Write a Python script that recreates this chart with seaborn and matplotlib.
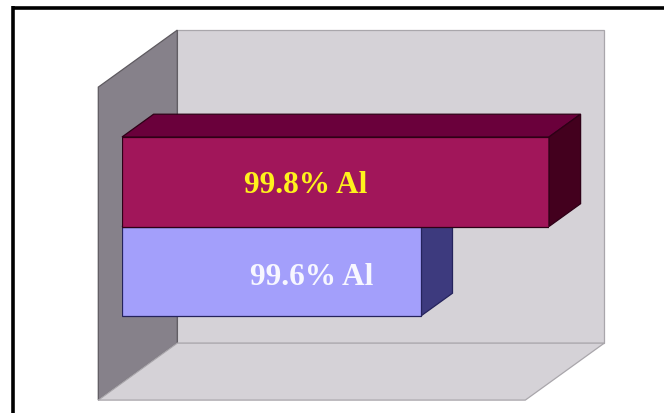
import matplotlib
matplotlib.use("Agg")
import matplotlib.pyplot as plt
from matplotlib.patches import Polygon
from matplotlib.lines import Line2D
import seaborn as sns
import pandas as pd

# Aluminium purity grades and their relative bar lengths
alloys = ["99.8% Al", "99.6% Al"]
relative = [1.0, 0.70]
value_max = 1.0

front_colors = ["#A1165A", "#A39FFB"]
top_colors = ["#6A003B", "#5A5AB0"]
side_colors = ["#43001E", "#3D3A7E"]
edge_colors = ["#2E0016", "#25235C"]
text_colors = ["#FFF21C", "#F7F7FF"]

df = pd.DataFrame({"alloy": alloys, "value": relative})

sns.set_theme(style="white")
W, H, DPI = 664, 414, 100
fig = plt.figure(figsize=(W / DPI, H / DPI), dpi=DPI, facecolor="white")

# front plane of the bars, in pixels
left_px, right_px, top_px, bot_px = 122, 549, 71, 384
ax = fig.add_axes([left_px / W, 1 - bot_px / H,
                   (right_px - left_px) / W, (bot_px - top_px) / H])

sns.barplot(data=df, x="value", y="alloy", hue="alloy", palette=front_colors,
            saturation=1.0, width=1.0, legend=False, ax=ax, linewidth=0.9,
            zorder=1.0)
for patch, ec in zip(ax.patches, edge_colors):
    patch.set_edgecolor(ec)

ax.set_xlim(0, value_max)
ax.set_ylim(2.2486, -1.2486)
ax.set_axis_off()

# depth vector of the box (pixels right / up) expressed in data units
inv = ax.transData.inverted()
x0d, y0d = ax.transData.transform((0, 0))
p0 = inv.transform((x0d, y0d))
p1 = inv.transform((x0d + 79, y0d + 57))
dvx, dvy = p1[0] - p0[0], p1[1] - p0[1]
bar_depth = 0.3  # bars sit between depth 0.3 and 0.7 of the box


def pt(x, y, d):
    return (x + (d - bar_depth) * dvx, y + (d - bar_depth) * dvy)


ytop, ybot = -1.2486, 2.2486

# back wall, side wall and floor
walls = [
    ([pt(0, ytop, 1), pt(value_max, ytop, 1), pt(value_max, ybot, 1), pt(0, ybot, 1)],
     "#D5D2D7", "#A9A6AB"),
    ([pt(0, ytop, 0), pt(0, ytop, 1), pt(0, ybot, 1), pt(0, ybot, 0)],
     "#86818A", "#5E5A60"),
    ([pt(0, ybot, 0), pt(value_max, ybot, 0), pt(value_max, ybot, 1), pt(0, ybot, 1)],
     "#D5D2D7", "#A9A6AB"),
]
for i, (verts, fc, ec) in enumerate(walls):
    ax.add_patch(Polygon(verts, closed=True, facecolor=fc, edgecolor=ec,
                         linewidth=0.9, zorder=0.1 + 0.1 * i, clip_on=False))

# top and side faces of every bar, derived from the drawn bars
d0, d1 = bar_depth, bar_depth + 0.4
for i, patch in enumerate(ax.patches[:len(alloys)]):
    bx, by = patch.get_x(), patch.get_y()
    bw, bh = patch.get_width(), patch.get_height()
    y_hi, y_lo = by, by + bh  # upper / lower edge on screen (inverted axis)
    z = 1.2 if i == 0 else 0.8
    top = [pt(bx, y_hi, d0), pt(bx, y_hi, d1), pt(bx + bw, y_hi, d1), pt(bx + bw, y_hi, d0)]
    side = [pt(bx + bw, y_hi, d0), pt(bx + bw, y_hi, d1), pt(bx + bw, y_lo, d1), pt(bx + bw, y_lo, d0)]
    ax.add_patch(Polygon(top, closed=True, facecolor=top_colors[i],
                         edgecolor=edge_colors[i], linewidth=0.9, zorder=z, clip_on=False))
    ax.add_patch(Polygon(side, closed=True, facecolor=side_colors[i],
                         edgecolor=edge_colors[i], linewidth=0.9, zorder=z, clip_on=False))
    if i == 0:
        patch.set_zorder(1.1)

# category names written inside the bars
label_x = [0.43, 0.445]
label_baseline = [0.1145, 0.142]
for i, name in enumerate(alloys):
    ax.text(label_x[i], i + label_baseline[i], name, color=text_colors[i],
            fontsize=22.5, fontweight="bold", family=["Liberation Serif", "DejaVu Serif"],
            ha="center", va="baseline", zorder=3)

# slide frame along the top and left
fig.add_artist(Line2D([12.5 / W, 1.0], [1 - 8.5 / H, 1 - 8.5 / H],
                      color="black", linewidth=2.6, solid_capstyle="butt"))
fig.add_artist(Line2D([12.5 / W, 12.5 / W], [0, 1 - 7.0 / H],
                      color="black", linewidth=2.6, solid_capstyle="butt"))

fig.savefig("out.png", dpi=DPI, facecolor="white")
